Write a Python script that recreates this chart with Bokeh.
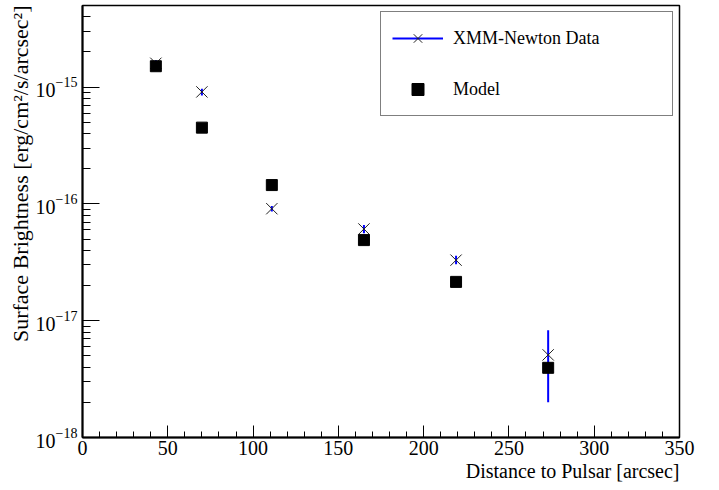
from bokeh.plotting import figure
from bokeh.models import Range1d, FixedTicker, Legend, LegendItem, ColumnDataSource, Title
from bokeh.embed import file_html
from bokeh.resources import INLINE

# ---- data ----
distance = [43, 70, 111, 165, 219, 273]                      # arcsec
xmm_brightness = [1.60e-15, 9.1e-16, 9.1e-17, 6.1e-17, 3.3e-17, 5.1e-18]
xmm_err_low = [1.50e-15, 8.5e-16, 8.6e-17, 5.6e-17, 3.05e-17, 2.0e-18]
xmm_err_high = [1.70e-15, 9.7e-16, 9.6e-17, 6.6e-17, 3.6e-17, 8.3e-18]
model_brightness = [1.51e-15, 4.5e-16, 1.45e-16, 4.9e-17, 2.15e-17, 3.95e-18]

x_major = [0, 50, 100, 150, 200, 250, 300, 350]
x_minor = [v for v in range(0, 351, 10) if v % 50 != 0]
y_major = [1e-18, 1e-17, 1e-16, 1e-15]
y_minor = [k * 10.0 ** e for e in range(-18, -14) for k in range(2, 10)]

x_title = "Distance to Pulsar [arcsec]"
y_title = "Surface Brightness [erg/cm\u00b2/s/arcsec\u00b2]"

FONT = "Liberation Serif"

data_src = ColumnDataSource(dict(x=distance, y=xmm_brightness,
                                 lo=xmm_err_low, hi=xmm_err_high))
model_src = ColumnDataSource(dict(x=distance, y=model_brightness))

p = figure(width=719, height=490, x_range=Range1d(0, 350),
           y_range=Range1d(1e-18, 5e-15), y_axis_type="log",
           output_backend="svg", toolbar_location=None,
           min_border_left=82, min_border_right=40,
           min_border_top=5, min_border_bottom=53)

p.background_fill_color = "white"
p.border_fill_color = "white"
p.outline_line_color = "black"
p.outline_line_width = 1.5
p.grid.visible = False

err = p.segment(x0="x", y0="lo", x1="x", y1="hi", source=data_src,
                line_color="#0000ff", line_width=2)
xm = p.scatter(x="x", y="y", source=data_src, marker="x", size=16,
               line_color="#222222", line_width=1)
mod = p.scatter(x="x", y="y", source=model_src, marker="square", size=11,
                fill_color="black", line_color="black")

# axes
xa = p.xaxis[0]
ya = p.yaxis[0]
xa.ticker = FixedTicker(ticks=x_major, minor_ticks=x_minor)
ya.ticker = FixedTicker(ticks=y_major, minor_ticks=y_minor)
for ax in (xa, ya):
    ax.axis_line_color = "black"
    ax.axis_line_width = 2
    ax.major_tick_out = 0
    ax.minor_tick_out = 0
    ax.major_tick_line_color = "black"
    ax.minor_tick_line_color = "black"
    ax.major_label_text_font = FONT
    ax.major_label_text_font_size = "20px"
    ax.major_label_text_color = "black"

xa.major_tick_in = 12
xa.minor_tick_in = 6
ya.major_tick_in = 17
ya.minor_tick_in = 8
xa.major_label_standoff = 3
ya.major_label_standoff = 5

# axis titles, right-aligned at the end of each axis (as in the reference)
xt = Title(text=x_title, align="right", text_font=FONT, text_font_size="20px",
           text_font_style="normal", text_color="black", standoff=0, offset=0)
p.add_layout(xt, "below")
yt = Title(text=y_title, align="right", text_font=FONT, text_font_size="22px",
           text_font_style="normal", text_color="black", standoff=0, offset=0)
p.add_layout(yt, "left")

legend = Legend(items=[
    LegendItem(label="XMM-Newton Data", renderers=[err, xm]),
    LegendItem(label="Model", renderers=[mod]),
], location="top_right")
legend.border_line_color = "black"
legend.border_line_width = 1
legend.background_fill_color = "white"
legend.background_fill_alpha = 1
legend.label_text_font = FONT
legend.label_text_font_size = "18px"
legend.label_text_color = "black"
legend.glyph_width = 51
legend.glyph_height = 30
legend.spacing = 21
legend.padding = 11
legend.label_standoff = 10
legend.label_width = 208
legend.margin = 6
p.add_layout(legend, "center")

open("out.html", "w").write(file_html(p, INLINE))
